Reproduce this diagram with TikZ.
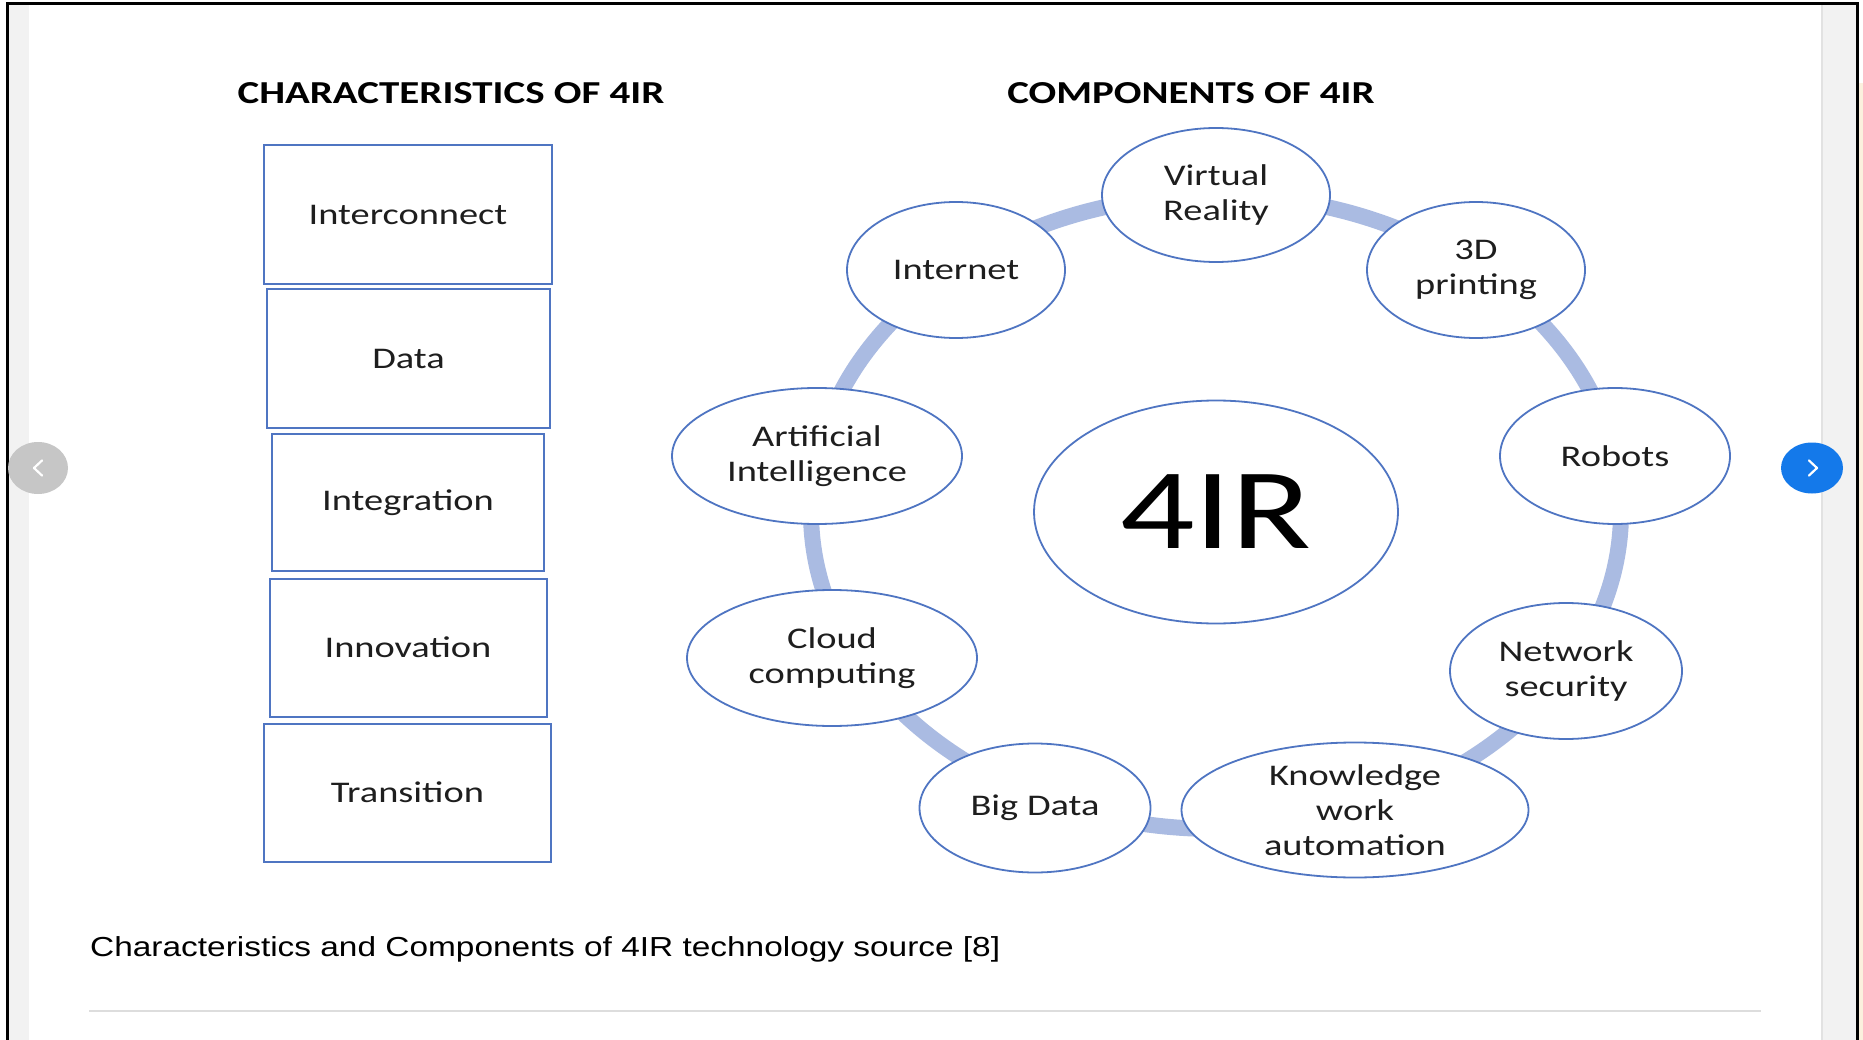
\documentclass[tikz,border=0pt]{standalone}
\usepackage{fontspec}
\usepackage{xcolor}
\usepackage{tikz}
\usetikzlibrary{shapes.geometric}
\newfontfamily\diagfont[FakeStretch=1.28]{Carlito}
\newfontfamily\capfont[FakeStretch=1.215]{Liberation Sans}
\definecolor{frame}{HTML}{000000}
\definecolor{side}{HTML}{F2F2F2}
\definecolor{sideline}{HTML}{E2E2E2}
\definecolor{beige}{HTML}{FBF0DE}
\definecolor{nodeblue}{HTML}{4F75C2}
\definecolor{ringblue}{HTML}{AABBE2}
\definecolor{ink}{HTML}{1E1E1E}
\definecolor{btngrey}{HTML}{C6C6C6}
\definecolor{btnblue}{HTML}{1479EA}
\definecolor{rulegrey}{HTML}{DDDDDD}
\tikzset{
  charbox/.style={draw=nodeblue, line width=2pt, inner sep=0pt, text=ink, font=\diagfont\fontsize{30}{36}\selectfont},
  comp/.style={ellipse, draw=nodeblue, fill=white, line width=1.8pt, inner sep=-30pt, align=center, text=ink, font=\diagfont\fontsize{30}{35}\selectfont},
  hub/.style={comp, text=black, font=\diagfont\fontsize{115}{120}\selectfont},
  ring/.style={draw=ringblue, line width=16pt},
  head/.style={anchor=base, inner sep=0pt, text=black, font=\diagfont\bfseries\fontsize{32}{38}\selectfont},
  captxt/.style={anchor=base west, inner sep=0pt, text=black, font=\capfont\fontsize{27.5}{33}\selectfont},
  btn/.style={ellipse, inner sep=0pt},
  chev/.style={draw=white, line width=2.2pt, line cap=round, line join=round}
}

\begin{document}
\begin{tikzpicture}[x=1pt, y=-1pt]
  \useasboundingbox (0,0) rectangle (1863,1040);
  \fill[white] (0,0) rectangle (1863,1040);
  \fill[beige] (1858,83) rectangle (1863,1040);
  \fill[side] (7,4) rectangle (29,1040);
  \fill[side] (1822,4) rectangle (1857,1040);
  \draw[sideline, line width=1.5pt] (1822,4) -- (1822,1040);
  \draw[frame, line width=3pt] (7,1040) -- (7,4) -- (1857,4) -- (1857,1040);

  \node[btn, fill=btngrey, minimum width=60pt, minimum height=52pt] (prev) at (38,468) {};
  \draw[chev] (prev.center) ++(4,-7.5) -- ++(-8,7.5) -- ++(8,7.5);
  \node[btn, fill=btnblue, minimum width=62pt, minimum height=51pt] (next) at (1812,468) {};
  \draw[chev] (next.center) ++(-3,-7.5) -- ++(8,7.5) -- ++(-8,7.5);

  \node[head] (chartitle) at (451,104) {CHARACTERISTICS OF 4IR};
  \node[head] (comptitle) at (1191,104) {COMPONENTS OF 4IR};

  \node[charbox, minimum width=288pt, minimum height=139pt] (inter) at (408,214.5) {Interconnect};
  \node[charbox, minimum width=283pt, minimum height=139pt] (data) at (408.5,358.5) {Data};
  \node[charbox, minimum width=272pt, minimum height=137pt] (integ) at (408,502.5) {Integration};
  \node[charbox, minimum width=277pt, minimum height=138pt] (innov) at (408,647.5) {Innovation};
  \node[charbox, minimum width=287pt, minimum height=138pt] (trans) at (407.5,792.5) {Transition};

  \node[hub, minimum width=364pt, minimum height=223pt] (hub) at (1216,512) {4IR};
  \draw[ring] (hub.center) ellipse [x radius=405, y radius=317];

  \node[comp, minimum width=228pt, minimum height=134pt] (vr) at (1216,195) {Virtual\\Reality};
  \node[comp, minimum width=218pt, minimum height=136pt] (inet) at (956,270) {Internet};
  \node[comp, minimum width=218pt, minimum height=136pt] (print) at (1476,270) {3D\\printing};
  \node[comp, minimum width=230pt, minimum height=136pt] (robots) at (1615,456) {Robots};
  \node[comp, minimum width=232pt, minimum height=136pt] (netsec) at (1566,671) {Network\\security};
  \node[comp, minimum width=347pt, minimum height=135pt] (kwa) at (1355,810) {Knowledge\\work\\automation};
  \node[comp, minimum width=231pt, minimum height=129pt] (bigdata) at (1035,808) {Big Data};
  \node[comp, minimum width=290pt, minimum height=136pt] (cloud) at (832,658) {Cloud\\computing};
  \node[comp, minimum width=290pt, minimum height=136pt] (ai) at (817,456) {Artificial\\Intelligence};

  \node[captxt] (caption) at (90,956) {Characteristics and Components of 4IR technology source [8]};
  \draw[rulegrey, line width=2pt] (89,1011) -- (1761,1011);
\end{tikzpicture}
\end{document}
